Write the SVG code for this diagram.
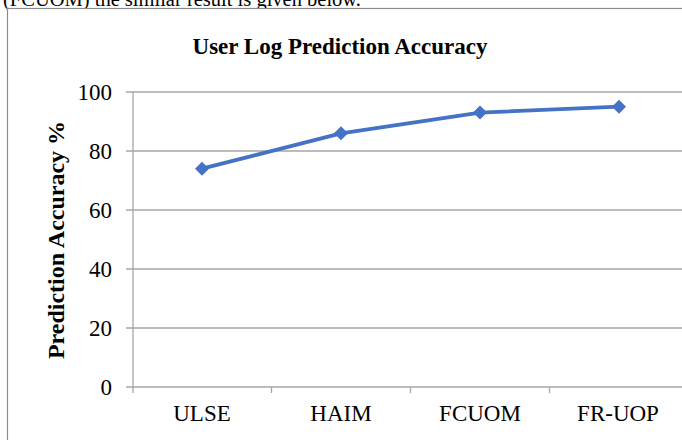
<svg xmlns="http://www.w3.org/2000/svg" width="682" height="440" viewBox="0 0 682 440">
  <style>
    .body { font-family: "Liberation Serif", "Times New Roman", serif; font-size: 20.5px; fill: #000; }
    .title { font-family: "Liberation Serif", "Times New Roman", serif; font-size: 23px; font-weight: bold; fill: #000; }
    .axis-title { font-family: "Liberation Serif", "Times New Roman", serif; font-size: 24px; font-weight: bold; fill: #000; }
    .tick { font-family: "Liberation Serif", "Times New Roman", serif; font-size: 23px; fill: #000; }
    .grid { stroke: #a6a6a6; stroke-width: 1.3; fill: none; }
    .series { stroke: #4472C4; stroke-width: 3.8; fill: none; stroke-linejoin: round; }
    .marker { fill: #4472C4; }
  </style>
  <defs>
    <path id="diamond" d="M0,-7 L7,0 L0,7 L-7,0 Z"/>
  </defs>
  <rect width="682" height="440" fill="#ffffff"/>
  <text class="body" x="3" y="6">(FCUOM) the similar result is given below.</text>
  <rect x="7.5" y="8.5" width="700" height="500" fill="#ffffff" stroke="#8c8c8c" stroke-width="1.2"/>
  <text class="title" x="340" y="54" text-anchor="middle">User Log Prediction Accuracy</text>

  <g id="gridlines">
    <line class="grid" x1="126" y1="92" x2="682" y2="92"/>
    <line class="grid" x1="126" y1="151" x2="682" y2="151"/>
    <line class="grid" x1="126" y1="210" x2="682" y2="210"/>
    <line class="grid" x1="126" y1="269" x2="682" y2="269"/>
    <line class="grid" x1="126" y1="328" x2="682" y2="328"/>
    <line class="grid" x1="126" y1="387" x2="682" y2="387"/>
    <line class="grid" x1="133" y1="92" x2="133" y2="393"/>
    <line class="grid" x1="271.5" y1="387" x2="271.5" y2="393"/>
    <line class="grid" x1="410.5" y1="387" x2="410.5" y2="393"/>
    <line class="grid" x1="549.5" y1="387" x2="549.5" y2="393"/>
  </g>

  <g id="y-labels" class="tick" text-anchor="end">
    <text x="112" y="100">100</text>
    <text x="112" y="159">80</text>
    <text x="112" y="218">60</text>
    <text x="112" y="277">40</text>
    <text x="112" y="336">20</text>
    <text x="112" y="395">0</text>
  </g>
  <text class="axis-title" transform="translate(64,240) rotate(-90)" text-anchor="middle">Prediction Accuracy %</text>

  <g id="x-labels" class="tick" text-anchor="middle">
    <text x="202" y="421">ULSE</text>
    <text x="341" y="421">HAIM</text>
    <text x="480" y="421">FCUOM</text>
    <text x="618" y="421">FR-UOP</text>
  </g>

  <g id="connectors">
    <polyline class="series" points="202,168.7 341,133.3 480,112.6 619,106.7"/>
  </g>
  <g id="node-ULSE"><use href="#diamond" class="marker" x="202" y="168.7"/></g>
  <g id="node-HAIM"><use href="#diamond" class="marker" x="341" y="133.3"/></g>
  <g id="node-FCUOM"><use href="#diamond" class="marker" x="480" y="112.6"/></g>
  <g id="node-FR-UOP"><use href="#diamond" class="marker" x="619" y="106.7"/></g>
</svg>
